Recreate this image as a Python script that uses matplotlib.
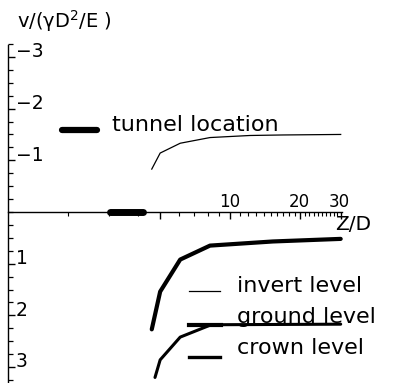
import numpy as np
import matplotlib
matplotlib.use("Agg")
import matplotlib.pyplot as plt
from matplotlib import transforms
from matplotlib.ticker import FixedLocator, NullFormatter

# Settlement profiles v/(gamma D^2/E) against distance Z/D (log scale)
z_invert = [4.6, 5.0, 6.1, 8.2, 12.2, 16.9, 30.0]
v_invert = [-0.83, -1.14, -1.33, -1.44, -1.48, -1.49, -1.50]

z_ground = [4.6, 5.0, 6.1, 8.2, 15.3, 30.0]
v_ground = [2.27, 1.54, 0.92, 0.65, 0.57, 0.52]

z_crown = [4.75, 5.0, 6.1, 8.2, 9.1, 30.0]
v_crown = [3.20, 2.86, 2.42, 2.19, 2.18, 2.17]

tunnel_z = [3.05, 4.2]

y_ticks = [-3, -2, -1, 1, 2, 3]
y_tick_labels = ["\u22123", "\u22122", "\u22121", "1", "2", "3"]
x_label_ticks = [10, 20, 30]

W, H = 401, 383
fig = plt.figure(figsize=(W / 100, H / 100), dpi=100)
ax = fig.add_axes([0, 0, 1, 1])
ax.patch.set_alpha(0)

# pixel-like frame for annotations (origin top-left)
pix = transforms.Affine2D().scale(1 / W, -1 / H).translate(0, 1) + fig.transFigure

ax.set_xscale("log")
ax.set_xlim(10 ** (1 - 230 / 232), 10 ** (1 + 171 / 232))
ax.set_ylim((H - 212) / 51.7, -212 / 51.7)

x_left = 10 ** (1 - 222 / 232)
for s in ("top", "right"):
    ax.spines[s].set_visible(False)
ax.spines["left"].set_position(("data", x_left))
ax.spines["left"].set_bounds(-3.23, 3.31)
ax.spines["bottom"].set_position(("data", 0))
ax.spines["bottom"].set_bounds(x_left, 30.4)
ax.spines["left"].set_linewidth(1.0)
ax.spines["bottom"].set_linewidth(1.0)

# y ticks point into the plot, labels sit just right of the axis
ax.yaxis.set_major_locator(FixedLocator(y_ticks))
ax.yaxis.set_minor_locator(FixedLocator(list(np.arange(-3.25, 3.3, 0.25))))
ax.yaxis.set_major_formatter(NullFormatter())
ax.tick_params(axis="y", which="major", direction="in", length=5, width=1)
ax.tick_params(axis="y", which="minor", direction="in", length=3.5, width=0.9)

# x ticks hang below the axis line
ax.xaxis.set_major_locator(FixedLocator([5, 10, 20, 30]))
minor_x = [2, 3, 4, 6, 7, 8, 9] + list(range(11, 20)) + list(range(21, 30))
ax.xaxis.set_minor_locator(FixedLocator(minor_x))
ax.xaxis.set_major_formatter(NullFormatter())
ax.xaxis.set_minor_formatter(NullFormatter())
ax.tick_params(axis="x", which="major", direction="out", length=5, width=1)
ax.tick_params(axis="x", which="minor", direction="out", length=3, width=0.8)

# curves
ax.plot(z_invert, v_invert, color="black", lw=0.9, solid_joinstyle="round")
ax.plot(z_ground, v_ground, color="black", lw=3.0, solid_joinstyle="round",
        solid_capstyle="round")
ax.plot(z_crown, v_crown, color="black", lw=2.2, solid_joinstyle="round",
        solid_capstyle="round")
ax.plot(tunnel_z, [0, 0], color="black", lw=5, solid_capstyle="round")

# tick labels
ylab_tr = transforms.blended_transform_factory(pix, ax.transData)
for v, lab in zip(y_ticks, y_tick_labels):
    ax.text(16, v - 0.1, lab, transform=ylab_tr, fontsize=13.5,
            ha="left", va="center")
xlab_tr = transforms.blended_transform_factory(ax.transData, pix)
label_shift = {10: 1.0, 20: 0.99, 30: 0.985}
for v in x_label_ticks:
    ax.text(v * label_shift[v], 202, str(v), transform=xlab_tr,
            fontsize=12, ha="center", va="center")

# axis titles
ax.text(17, 21, "v/(\u03b3D$^{2}$/E )", transform=pix, fontsize=14,
        ha="left", va="center")
ax.text(335, 224, "Z/D", transform=pix, fontsize=14.5, ha="left", va="center")

# legend
fs = 16
ax.plot([62, 97], [130, 130], transform=pix, color="black", lw=4.5,
        solid_capstyle="round")
ax.text(112, 125, "tunnel location", transform=pix, fontsize=fs,
        ha="left", va="center")
ax.plot([189, 220], [291, 291], transform=pix, color="black", lw=0.9)
ax.text(237, 286, "invert level", transform=pix, fontsize=fs,
        ha="left", va="center")
ax.plot([189, 221], [325, 325], transform=pix, color="black", lw=3.0)
ax.text(237, 317, "ground level", transform=pix, fontsize=fs,
        ha="left", va="center")
ax.plot([189, 220], [357, 357], transform=pix, color="black", lw=2.4)
ax.text(237, 348, "crown level", transform=pix, fontsize=fs,
        ha="left", va="center")

fig.savefig("out.png", dpi=100, facecolor="white")
